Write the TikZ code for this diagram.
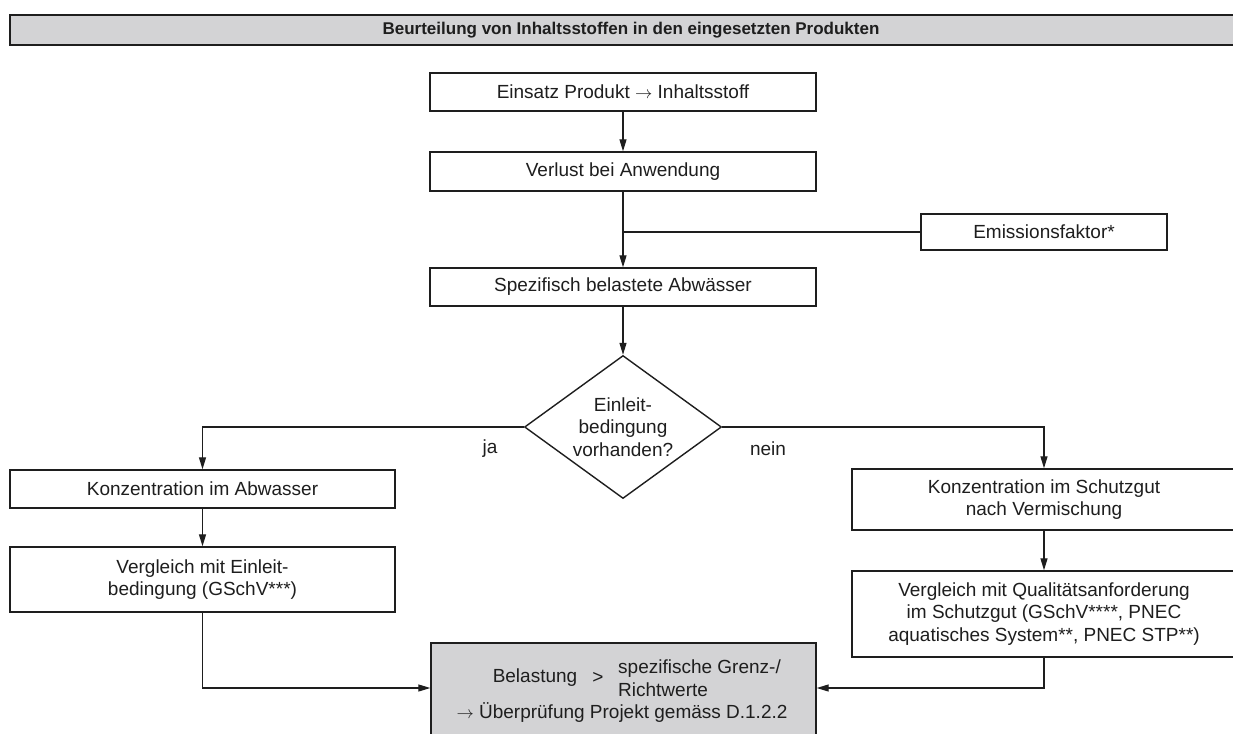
\documentclass[tikz,border=0pt]{standalone}
\usepackage{fontspec}
\setmainfont{Liberation Sans}
\usetikzlibrary{arrows.meta,shapes.geometric}
\definecolor{ink}{HTML}{1E1E1E}
\definecolor{panel}{HTML}{D3D3D5}
\newcommand{\boxfont}{\fontsize{19}{22.5}\selectfont}
\newcommand{\titlefont}{\fontsize{17}{20}\selectfont\bfseries}
\begin{document}
\begin{tikzpicture}[x=1pt,y=-1pt,
  every node/.style={text=ink},
  stepbox/.style={draw=ink, line width=1.4pt, fill=white, align=center,
    inner sep=0pt, font=\boxfont},
  resultbox/.style={stepbox, fill=panel},
  decision/.style={diamond, draw=ink, line width=1.4pt, fill=white, align=center,
    inner sep=0pt, aspect=1.38, font=\boxfont},
  flow/.style={draw=ink, line width=1.3pt},
  arrow/.style={flow, -{Triangle[length=12pt,width=7pt]}},
  plain/.style={font=\boxfont, inner sep=0pt}]
\useasboundingbox (0,0) rectangle (1233,733);
\clip (0,0) rectangle (1233,733);

% heading bar
\node[stepbox, fill=panel, minimum width=1242, minimum height=30] (title) at (631,30)
  {\titlefont Beurteilung von Inhaltsstoffen in den eingesetzten Produkten};

% main column
\node[stepbox, minimum width=386, minimum height=38] (einsatz) at (623,92)
  {Einsatz Produkt $\rightarrow$ Inhaltsstoff};
\node[stepbox, minimum width=386, minimum height=39] (verlust) at (623,171.5)
  {Verlust bei Anwendung};
\node[stepbox, minimum width=246, minimum height=36] (emission) at (1044,232)
  {Emissionsfaktor*};
\node[stepbox, minimum width=386, minimum height=38] (abw) at (623,287)
  {Spezifisch belastete Abwässer};
\node[decision, minimum width=197, minimum height=143] (einleit) at (623,427)
  {Einleit-\\bedingung\\vorhanden?};
\node[plain] (ja) at (490,449) {ja};
\node[plain] (nein) at (768,449) {nein};

% left branch
\node[stepbox, minimum width=385, minimum height=38] (konzA) at (202.5,489)
  {Konzentration im Abwasser};
\node[stepbox, minimum width=385, minimum height=65] (vglA) at (202.5,579.5)
  {Vergleich mit Einleit-\\bedingung (GSchV***)};

% right branch
\node[stepbox, minimum width=384, minimum height=61] (konzS) at (1044,499.5)
  {Konzentration im Schutzgut\\nach Vermischung};
\node[stepbox, minimum width=384, minimum height=86] (vglS) at (1044,614)
  {Vergleich mit Qualitätsanforderung\\im Schutzgut (GSchV****, PNEC\\aquatisches System**, PNEC STP**)};

% result
\node[resultbox, minimum width=385, minimum height=102] (result) at (623.5,694) {};
\node[plain] (belastung) at (535,678) {Belastung};
\node[plain] (gt) at (598,678) {>};
\node[plain, anchor=west, align=left] (grenz) at (618,678) {spezifische Grenz-/\\Richtwerte};
\node[plain] (pruef) at (622,713) {$\rightarrow$ Überprüfung Projekt gemäss D.1.2.2};

% connectors
\draw[arrow] (einsatz.south) -- (verlust.north);
\draw[arrow] (verlust.south) -- (abw.north);
\draw[flow] (emission.west) -- (emission.west -| verlust.south);
\draw[arrow] (abw.south) -- (einleit.north);
\draw[arrow] (einleit.west) -| (konzA.north);
\draw[arrow] (einleit.east) -| (konzS.north);
\draw[arrow] (konzA.south) -- (vglA.north);
\draw[arrow] (konzS.south) -- (vglS.north);
\draw[arrow] (vglA.south) |- ([yshift=6pt]result.west);
\draw[arrow] (vglS.south) |- ([yshift=6pt]result.east);
\end{tikzpicture}
\end{document}
